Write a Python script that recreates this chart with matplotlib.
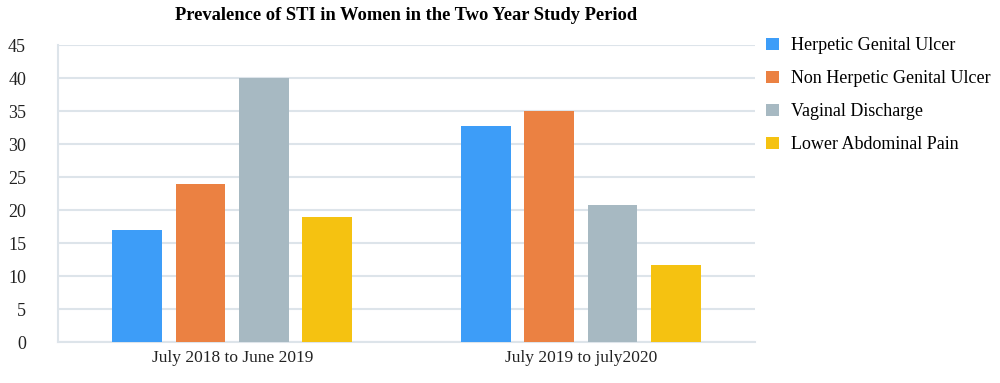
import numpy as np
import matplotlib
matplotlib.use("Agg")
import matplotlib.pyplot as plt

# data
periods = ["July 2018 to June 2019", "July 2019 to july2020"]
series = ["Herpetic Genital Ulcer", "Non Herpetic Genital Ulcer",
          "Vaginal Discharge", "Lower Abdominal Pain"]
herpetic = [17, 32.7]
non_herpetic = [24, 35]
vaginal = [40, 20.7]
abdominal = [19, 11.7]
colors = ["#3d9df8", "#eb8142", "#a7b9c2", "#f5c211"]

plt.rcParams['font.family'] = ['Liberation Serif']

fig = plt.figure(figsize=(10, 3.83), dpi=100)
ax = fig.add_axes([0.058, 0.107, 0.697, 0.7755])

x = np.arange(len(periods))
width = 0.143
pitch = 0.182
for i, (vals, name) in enumerate(zip([herpetic, non_herpetic, vaginal, abdominal], series)):
    ax.bar(x + (i - 1.5) * pitch, vals, width, color=colors[i], label=name, zorder=3)

ax.set_xlim(-0.5, 1.5)
ax.set_ylim(0, 45)
ax.set_yticks(range(0, 50, 5))
ax.set_xticks(x)
ax.set_xticklabels(periods)
ax.yaxis.grid(True, color="#dde4ea", lw=1.5, zorder=0)
ax.tick_params(length=0, colors="#222222")
ax.tick_params(axis='y', labelsize=13, pad=23)
ax.tick_params(axis='x', labelsize=12.5, pad=6)
for s in ["top", "right"]:
    ax.spines[s].set_visible(False)
for s in ["left", "bottom"]:
    ax.spines[s].set_color("#dde4ea")
    ax.spines[s].set_linewidth(1.5)

ax.set_title("Prevalence of STI in Women in the Two Year Study Period",
             fontsize=13.3, fontweight="bold", pad=18)

ax.legend(loc="upper left", bbox_to_anchor=(0.993, 1.08), frameon=False,
          fontsize=13, handlelength=0.7, handleheight=0.7,
          labelspacing=0.88, handletextpad=0.65)

fig.savefig("out.png", dpi=100)
